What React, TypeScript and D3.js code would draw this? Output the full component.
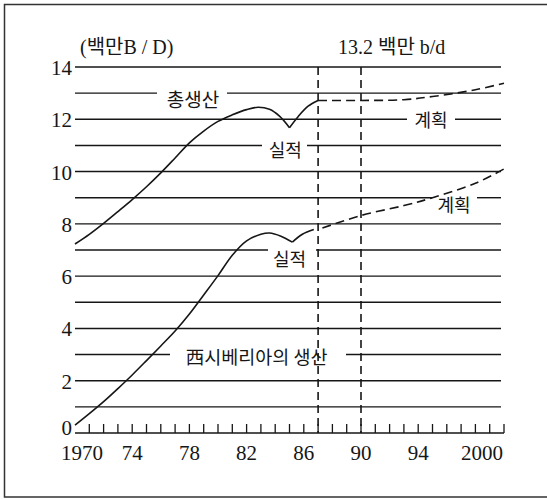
import React from "react";
import * as d3 from "d3";

// ---- data (years, million barrels/day) ----
const totalActualYears = [1970, 1971, 1972, 1973, 1974, 1975, 1976, 1977, 1978, 1979, 1980, 1981, 1982, 1982.8, 1983.6, 1984.3, 1985.0];
const totalActualValues = [7.23, 7.6, 8.02, 8.47, 8.93, 9.42, 9.95, 10.52, 11.1, 11.55, 11.92, 12.17, 12.37, 12.46, 12.38, 12.12, 11.68];
const totalRecoverYears = [1985.0, 1985.6, 1986.3, 1987];
const totalRecoverValues = [11.68, 12.1, 12.5, 12.72];
const totalPlanYears = [1987, 1990, 1993, 1995, 1998, 2000];
const totalPlanValues = [12.72, 12.72, 12.75, 12.87, 13.13, 13.38];

const siberiaActualYears = [1970, 1971, 1972, 1973, 1974, 1975, 1976, 1977, 1978, 1979, 1980, 1981, 1982, 1983, 1983.6, 1984.4, 1985.2];
const siberiaActualValues = [0.3, 0.74, 1.2, 1.7, 2.22, 2.77, 3.33, 3.9, 4.55, 5.28, 6.02, 6.8, 7.35, 7.6, 7.65, 7.53, 7.3];
const siberiaRecoverYears = [1985.2, 1985.9, 1986.7];
const siberiaRecoverValues = [7.3, 7.6, 7.78];
const siberiaPlanYears = [1987.3, 1990, 1993, 1995, 1998, 2000];
const siberiaPlanValues = [7.84, 8.32, 8.7, 9.0, 9.55, 10.1];

const yTickValues = [0, 2, 4, 6, 8, 10, 12, 14];
const gridValues = [1, 2, 3, 4, 5, 6, 7, 8, 9, 10, 11, 12, 13, 14];
const xTickLabelYears = [1970, 1974, 1978, 1982, 1986, 1990, 1994, 2000];
const xTickLabels = ["1970", "74", "78", "82", "86", "90", "94", "2000"];
const markerYears = [1987, 1990];
const unitLabel = "(백만B / D)";
const headerLabel = "13.2 백만 b/d";

const serif = "'Liberation Serif', 'DejaVu Serif', 'Noto Sans CJK KR', serif";
const kr = "'Noto Sans CJK KR', sans-serif";
const ink = "#161616";

export default function App() {
  const x = d3.scaleLinear().domain([1970, 2000]).range([75, 504]);
  const y = d3.scaleLinear().domain([0, 14]).range([433, 67]);

  const line = d3
    .line<[number, number]>()
    .x((d) => x(d[0]))
    .y((d) => y(d[1]))
    .curve(d3.curveCatmullRom.alpha(0.5));
  const zip = (a: number[], b: number[]) => a.map((v, i) => [v, b[i]] as [number, number]);

  // gaps in grid lines where labels sit: [value, x0, x1]
  const gaps: Record<number, [number, number][]> = {
    13: [[157, 227]],
    12: [[407, 455]],
    11: [[262, 307]],
    7: [[268, 316]],
    9: [[432, 477]],
    3: [[170, 346]],
  };
  const gridX0 = x(1970);
  const gridX1 = x(2000) - 3;

  const gridSegments: { v: number; a: number; b: number }[] = [];
  gridValues.forEach((v) => {
    let start = gridX0;
    (gaps[v] || []).forEach(([g0, g1]) => {
      gridSegments.push({ v, a: start, b: g0 });
      start = g1;
    });
    gridSegments.push({ v, a: start, b: gridX1 });
  });

  const years = d3.range(1971, 2001);

  const labels = [
    { t: "총생산", yr: 1978.25, v: 12.8, size: 19 },
    { t: "실적", yr: 1984.7, v: 10.85, size: 18 },
    { t: "계획", yr: 1994.9, v: 12.0, size: 18 },
    { t: "실적", yr: 1985.0, v: 6.7, size: 18 },
    { t: "계획", yr: 1996.5, v: 8.76, size: 18 },
    { t: "西시베리아의 생산", yr: 1982.7, v: 2.95, size: 18.5 },
  ];

  return (
    <svg
      width={547}
      height={499}
      style={{ position: "absolute", left: 0, top: 0, background: "#fff" }}
    >
      <rect x={0} y={0} width={547} height={499} fill="#fff" />
      {/* frame */}
      <path d="M 560 4.5 H 4.5 V 497 H 560" fill="none" stroke="#333" strokeWidth={1.5} />

      {/* grid lines */}
      {gridSegments.map((s, i) => (
        <line key={i} x1={s.a} x2={s.b} y1={y(s.v)} y2={y(s.v)} stroke={ink} strokeWidth={1.4} />
      ))}

      {/* x axis */}
      <line x1={x(1970)} x2={x(2000)} y1={y(0)} y2={y(0)} stroke={ink} strokeWidth={1.5} />
      {years.map((yr) => (
        <line key={yr} x1={x(yr)} x2={x(yr)} y1={y(0)} y2={y(0) - 9} stroke={ink} strokeWidth={1.3} />
      ))}

      {/* vertical dashed markers */}
      {markerYears.map((yr) => (
        <line
          key={yr}
          x1={x(yr)}
          x2={x(yr)}
          y1={y(14)}
          y2={y(0)}
          stroke={ink}
          strokeWidth={1.6}
          strokeDasharray="8 5"
        />
      ))}

      {/* curves */}
      <g fill="none" stroke={ink} strokeWidth={1.6}>
        <path d={line(zip(totalActualYears, totalActualValues)) || ""} />
        <path d={line(zip(totalRecoverYears, totalRecoverValues)) || ""} />
        <path d={line(zip(totalPlanYears, totalPlanValues)) || ""} strokeDasharray="9 5" />
        <path d={line(zip(siberiaActualYears, siberiaActualValues)) || ""} />
        <path d={line(zip(siberiaRecoverYears, siberiaRecoverValues)) || ""} />
        <path d={line(zip(siberiaPlanYears, siberiaPlanValues)) || ""} strokeDasharray="9 5" />
      </g>

      {/* y tick labels */}
      {yTickValues.map((v) => (
        <text
          key={v}
          x={72}
          y={v === 0 ? y(v) - 5 : y(v) + 1}
          textAnchor="end"
          dominantBaseline="central"
          fontFamily={serif}
          fontSize={21}
          fill={ink}
        >
          {v}
        </text>
      ))}

      {/* x tick labels */}
      {xTickLabelYears.map((yr, i) => (
        <text
          key={yr}
          x={i === 0 ? x(yr) + 7 : i === xTickLabelYears.length - 1 ? x(yr) - 1 : x(yr)}
          y={453}
          textAnchor={i === xTickLabelYears.length - 1 ? "end" : "middle"}
          dominantBaseline="central"
          fontFamily={serif}
          fontSize={21}
          fill={ink}
        >
          {xTickLabels[i]}
        </text>
      ))}

      {/* annotations */}
      {labels.map((l, i) => (
        <text
          key={i}
          x={x(l.yr)}
          y={y(l.v)}
          textAnchor="middle"
          dominantBaseline="central"
          fontFamily={kr}
          fontSize={l.size}
          fill={ink}
        >
          {l.t}
        </text>
      ))}

      <text x={80} y={47} dominantBaseline="central" fontFamily={serif} fontSize={20} fill={ink}>
        {unitLabel}
      </text>
      <text x={338} y={47} dominantBaseline="central" fontFamily={serif} fontSize={20} fill={ink}>
        {headerLabel}
      </text>
    </svg>
  );
}
